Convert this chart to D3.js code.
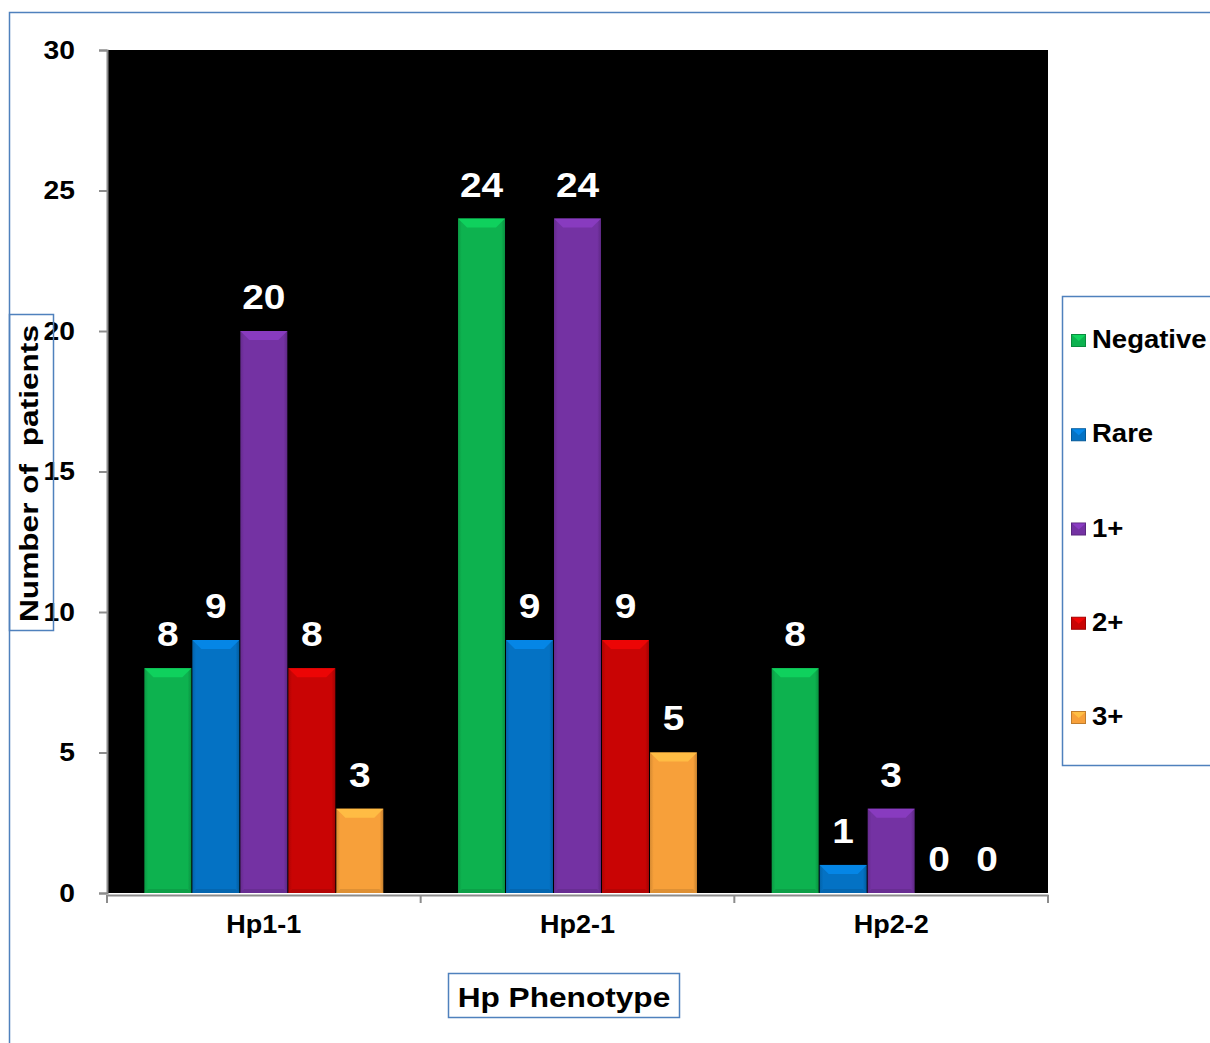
<!DOCTYPE html>
<html>
<head>
<meta charset="utf-8">
<script src="https://cdn.jsdelivr.net/npm/d3@7"></script>
<style>
  html, body { margin: 0; padding: 0; background: #fff; }
  svg { display: block; }
  svg text { font-family: "Liberation Sans", Arial, sans-serif; }
</style>
</head>
<body>
<svg id="chart" width="1210" height="1043"></svg>
<script>
// Hp phenotype groups and patient counts per grade
const phenotypes = ["Hp1-1", "Hp2-1", "Hp2-2"];
const grades = ["Negative", "Rare", "1+", "2+", "3+"];
const negative = [8, 24, 8];
const rare = [9, 9, 1];
const plus1 = [20, 24, 3];
const plus2 = [8, 9, 0];
const plus3 = [3, 5, 0];
const yTicks = [0, 5, 10, 15, 20, 25, 30];
const gradeColors = ["#0db24f", "#0472c4", "#7432a3", "#c90404", "#f7a03a"];

const seriesValues = [negative, rare, plus1, plus2, plus3];
const table = phenotypes.map((p, i) => ({
  phenotype: p,
  values: grades.map((g, j) => ({ grade: g, value: seriesValues[j][i], idx: j }))
}));

const FONT = "'Liberation Sans', Arial, sans-serif";
const svg = d3.select("#chart");
const plot = { left: 107, right: 1048, top: 50, bottom: 893 };

// widen glyphs horizontally, keeping each text's anchor point in place
function stretch(sel, sx) {
  sel.each(function () {
    const el = d3.select(this);
    const x = +el.attr("x") || 0;
    el.attr("x", x / sx);
    const t = el.attr("transform") || "";
    el.attr("transform", (t + ` scale(${sx},1)`).trim());
  });
}

const x0 = d3.scaleBand().domain(phenotypes).range([plot.left, plot.right]).paddingInner(0.235).paddingOuter(0.1175);
const x1 = d3.scaleBand().domain(grades).range([0, x0.bandwidth()]).padding(0);
const y = d3.scaleLinear().domain([0, 30]).range([plot.bottom, plot.top]);
const color = d3.scaleOrdinal().domain(grades).range(gradeColors);

// outer frame lines
svg.append("path").attr("d", "M9.5,1043 V12.5 H1210").attr("fill", "none").attr("stroke", "#4f81bd").attr("stroke-width", 1.5);

// black plot area
svg.append("rect").attr("x", plot.left).attr("y", plot.top)
  .attr("width", plot.right - plot.left).attr("height", plot.bottom - plot.top).attr("fill", "#000");

// bevel gradients per grade
const defs = svg.append("defs");
gradeColors.forEach((c, i) => {
  const g = defs.append("linearGradient").attr("id", "side" + i).attr("x1", 0).attr("x2", 1).attr("y1", 0).attr("y2", 0);
  g.append("stop").attr("offset", 0).attr("stop-color", d3.color(c).darker(0.4));
  g.append("stop").attr("offset", 0.08).attr("stop-color", c);
  g.append("stop").attr("offset", 0.92).attr("stop-color", c);
  g.append("stop").attr("offset", 1).attr("stop-color", d3.color(c).darker(0.6));
});

// bars with bevelled tops
const groups = svg.append("g").selectAll("g").data(table).join("g")
  .attr("transform", d => `translate(${x0(d.phenotype)},0)`);

const bars = groups.selectAll("g.bar").data(d => d.values.filter(v => v.value > 0)).join("g").attr("class", "bar");

bars.append("rect")
  .attr("x", d => x1(d.grade) + 0.5)
  .attr("y", d => y(d.value))
  .attr("width", x1.bandwidth() - 1)
  .attr("height", d => y(0) - y(d.value))
  .attr("fill", d => `url(#side${d.idx})`);

// lighter top bevel facet
bars.append("path")
  .attr("d", d => {
    const xl = x1(d.grade) + 0.5, xr = xl + x1.bandwidth() - 1, yt = y(d.value), b = 9;
    return `M${xl},${yt} H${xr} L${xr - b},${yt + b} H${xl + b} Z`;
  })
  .attr("fill", d => d3.color(color(d.grade)).brighter(0.45));

// subtle darker bottom edge
bars.append("path")
  .attr("d", d => {
    const xl = x1(d.grade) + 0.5, xr = xl + x1.bandwidth() - 1, yb = y(0), b = 4;
    return `M${xl},${yb} H${xr} L${xr - b},${yb - b} H${xl + b} Z`;
  })
  .attr("fill", d => d3.color(color(d.grade)).darker(0.3));

// value labels
const valueLabels = groups.selectAll("text.val").data(d => d.values).join("text")
  .attr("class", "val")
  .attr("x", d => x1(d.grade) + x1.bandwidth() / 2)
  .attr("y", d => y(d.value) - 22)
  .attr("text-anchor", "middle")
  .attr("fill", "#fff")
  .attr("font-weight", "bold")
  .attr("font-size", 36)
  .text(d => d.value);
stretch(valueLabels, 1.08);

// y axis
const yAxis = svg.append("g").attr("transform", `translate(${plot.left},0)`)
  .call(d3.axisLeft(y).tickValues(yTicks).tickSize(8).tickPadding(24));
yAxis.attr("font-family", FONT);
yAxis.select(".domain").attr("stroke", "#8c8c8c").attr("stroke-width", 2);
yAxis.selectAll(".tick line").attr("stroke", "#8c8c8c").attr("stroke-width", 2);
yAxis.selectAll(".tick text").attr("font-size", 25).attr("font-weight", "bold").attr("fill", "#000");
stretch(yAxis.selectAll(".tick text"), 1.13);

// x axis
const xAxis = svg.append("g").attr("transform", `translate(0,${plot.bottom + 2})`)
  .call(d3.axisBottom(x0).tickSize(0).tickPadding(20));
xAxis.attr("font-family", FONT);
xAxis.select(".domain").attr("stroke", "#8c8c8c").attr("stroke-width", 2);
xAxis.selectAll(".tick text").attr("font-size", 25).attr("font-weight", "bold").attr("fill", "#000");
stretch(xAxis.selectAll(".tick text"), 1.08);
const boundaries = [plot.left, (x0("Hp1-1") + x0.bandwidth() + x0("Hp2-1")) / 2,
  (x0("Hp2-1") + x0.bandwidth() + x0("Hp2-2")) / 2, plot.right];
svg.append("g").selectAll("line").data(boundaries).join("line")
  .attr("x1", d => d).attr("x2", d => d)
  .attr("y1", plot.bottom + 2).attr("y2", plot.bottom + 10)
  .attr("stroke", "#8c8c8c").attr("stroke-width", 2);

// y axis title
svg.append("rect").attr("x", 9.5).attr("y", 314.5).attr("width", 44).attr("height", 316)
  .attr("fill", "none").attr("stroke", "#4f81bd").attr("stroke-width", 1.5);
svg.append("text").attr("transform", "translate(38,473.5) rotate(-90)")
  .attr("text-anchor", "middle").attr("font-size", 26).attr("font-weight", "bold")
  .attr("xml:space", "preserve").style("white-space", "pre")
  .attr("textLength", 297).attr("lengthAdjust", "spacingAndGlyphs")
  .text("Number of  patients");

// x axis title
svg.append("rect").attr("x", 448.5).attr("y", 973.5).attr("width", 231).attr("height", 44)
  .attr("fill", "#fff").attr("stroke", "#4f81bd").attr("stroke-width", 1.5);
const xTitle = svg.append("text").attr("x", 564).attr("y", 1007)
  .attr("text-anchor", "middle").attr("font-size", 28).attr("font-weight", "bold")
  .text("Hp Phenotype");
stretch(xTitle, 1.13);

// legend
svg.append("path").attr("d", "M1210,296.5 H1062.5 V765.5 H1210")
  .attr("fill", "none").attr("stroke", "#4f81bd").attr("stroke-width", 1.5);
const legendY = d3.scalePoint().domain(grades).range([340, 717]);
const leg = svg.append("g").selectAll("g").data(grades).join("g")
  .attr("transform", d => `translate(1071,${legendY(d)})`);
leg.append("rect").attr("x", 0.5).attr("y", -5.5).attr("width", 14).attr("height", 12)
  .attr("fill", d => color(d)).attr("stroke", d => d3.color(color(d)).darker(0.7)).attr("stroke-width", 1);
leg.append("path").attr("d", "M1,-5 H14.5 L7.75,1 Z").attr("fill", d => d3.color(color(d)).brighter(0.5));
const legText = leg.append("text").attr("x", 21).attr("y", 8).attr("font-size", 25).attr("font-weight", "bold")
  .text(d => d);
stretch(legText, 1.1);
</script>
</body>
</html>
